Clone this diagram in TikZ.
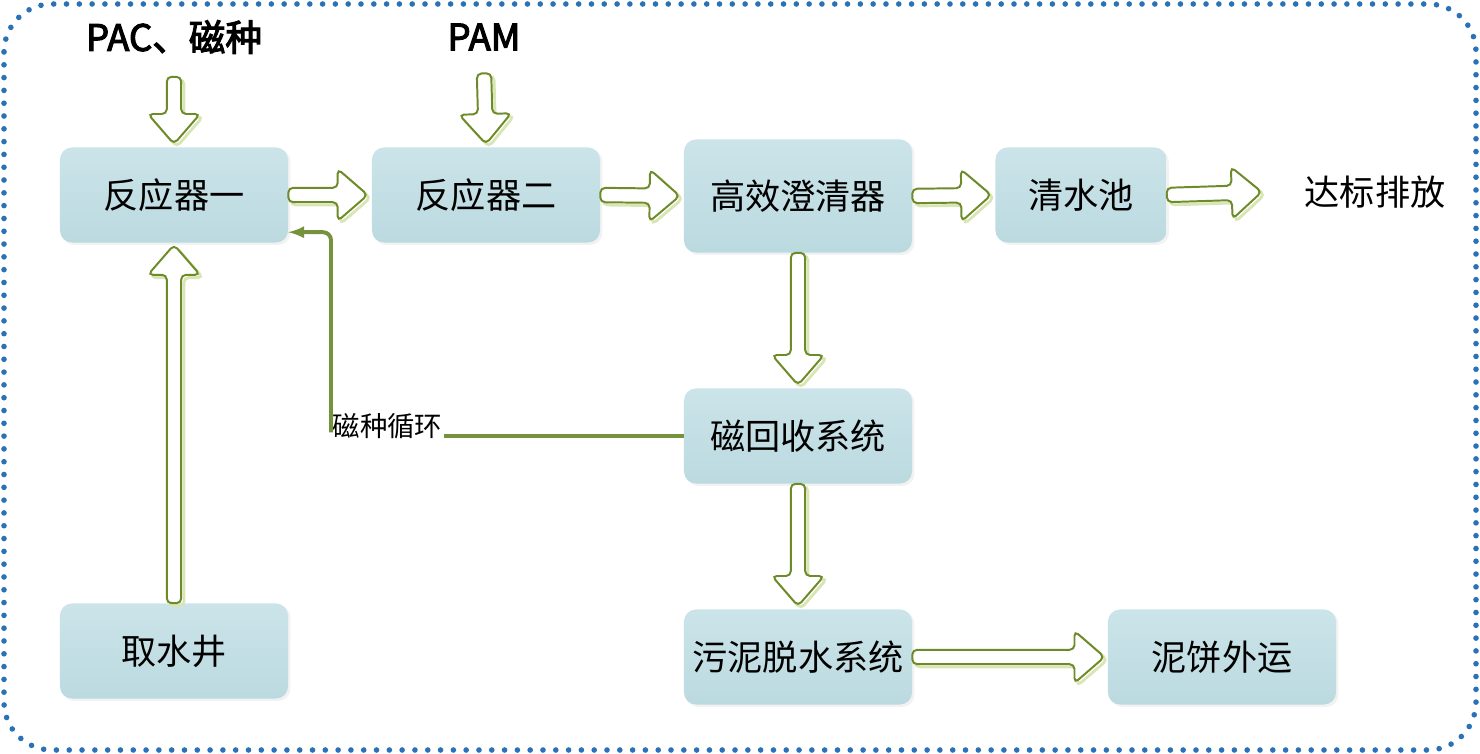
\documentclass[tikz,border=0pt]{standalone}
\usepackage{fontspec}
\newfontfamily\cjk{Noto Sans CJK SC}
\newfontfamily\cjkb[FakeBold=3]{Noto Sans CJK SC}
\usetikzlibrary{calc,shadows}
\definecolor{boxtop}{HTML}{CBE4E9}
\definecolor{boxbot}{HTML}{BBDAE0}
\definecolor{arrowgreen}{HTML}{6E8B2A}
\definecolor{palegreen}{HTML}{D9E5B5}
\definecolor{loopgreen}{HTML}{76923C}
\definecolor{dotblue}{HTML}{2A72B5}
\begin{document}
\begin{tikzpicture}[x=0.025cm, y=-0.025cm,
  box/.style={rectangle, rounded corners=0.3cm, top color=boxtop, bottom color=boxbot,
    minimum width=5.7cm, minimum height=2.375cm, inner sep=0pt,
    drop shadow={shadow xshift=0.06cm, shadow yshift=-0.06cm, fill=black!10},
    font=\cjk\fontsize{25}{30}\selectfont},
  label/.style={font=\cjk\fontsize{25}{30}\selectfont},
  addin/.style={font=\cjkb\fontsize{26}{30}\selectfont},
  fatarrow/.style={draw=arrowgreen, fill=white, line width=1.4pt, rounded corners=0.12cm,
    preaction={draw=palegreen, line width=2pt, transform canvas={shift={(0.07cm,-0.07cm)}}},
    to path={
      ($(\tikztotarget)!0.75cm!(\tikztostart)$) coordinate (neck)
      ($(\tikztostart)!0.18cm!90:(\tikztotarget)$)
      -- ($(neck)!0.18cm!90:(\tikztotarget)$)
      -- ($(neck)!0.65cm!90:(\tikztotarget)$)
      -- (\tikztotarget)
      -- ($(neck)!0.65cm!-90:(\tikztotarget)$)
      -- ($(neck)!0.18cm!-90:(\tikztotarget)$)
      -- ($(\tikztostart)!0.18cm!-90:(\tikztotarget)$) -- cycle}},
  recycle/.style={draw=loopgreen, line width=2.8pt}]
\useasboundingbox (0,0) rectangle (1480,754);
\draw[dotblue, line width=0.14cm, line cap=round, dash pattern=on 0pt off 0.32cm,
  rounded corners=1.2cm] (4,4) rectangle (1476,750);

\node[addin] (pac) at (174,37) {PAC、磁种};
\node[addin] (pam) at (484,37) {PAM};
\node[box] (r1) at (174,195) {反应器一};
\node[box] (r2) at (486,195) {反应器二};
\node[box, minimum height=2.825cm] (hx) at (798,196) {高效澄清器};
\node[box, minimum width=4.275cm] (cs) at (1081,195) {清水池};
\node[label] (out) at (1375,192) {达标排放};
\node[box] (mag) at (798,436) {磁回收系统};
\node[box] (sl) at (798,657) {污泥脱水系统};
\node[box] (cake) at (1222,657) {泥饼外运};
\node[box] (well) at (174,651) {取水井};
\node[anchor=west, inner sep=1pt, font=\cjk\fontsize{19.5}{23}\selectfont] (loop) at (331,426) {磁种循环};

\draw[fatarrow] ([yshift=-0.45cm]pac.south) to ([yshift=0.08cm]r1.north);
\draw[fatarrow] ([yshift=-0.45cm]pam.south) to ([yshift=0.08cm]r2.north);
\draw[fatarrow] (r1.east) to ([xshift=-0.1cm]r2.west);
\draw[fatarrow] (r2.east) to ([xshift=-0.1cm]hx.west);
\draw[fatarrow] (hx.east) to ([xshift=-0.1cm]cs.west);
\draw[fatarrow] (cs.east) to ([xshift=-0.95cm]out.west);
\draw[fatarrow] (hx.south) to ([yshift=0.08cm]mag.north);
\draw[fatarrow] (mag.south) to ([yshift=0.08cm]sl.north);
\draw[fatarrow] (sl.east) to ([xshift=-0.08cm]cake.west);
\draw[fatarrow] (well.north) to ([yshift=-0.05cm]r1.south);

\draw[recycle] (mag.west) -- (mag.west -| loop.east);
\draw[recycle, -latex, rounded corners=0.2cm] ([yshift=0.2cm]loop.south west) |- ([yshift=-0.93cm]r1.east);
\end{tikzpicture}
\end{document}
